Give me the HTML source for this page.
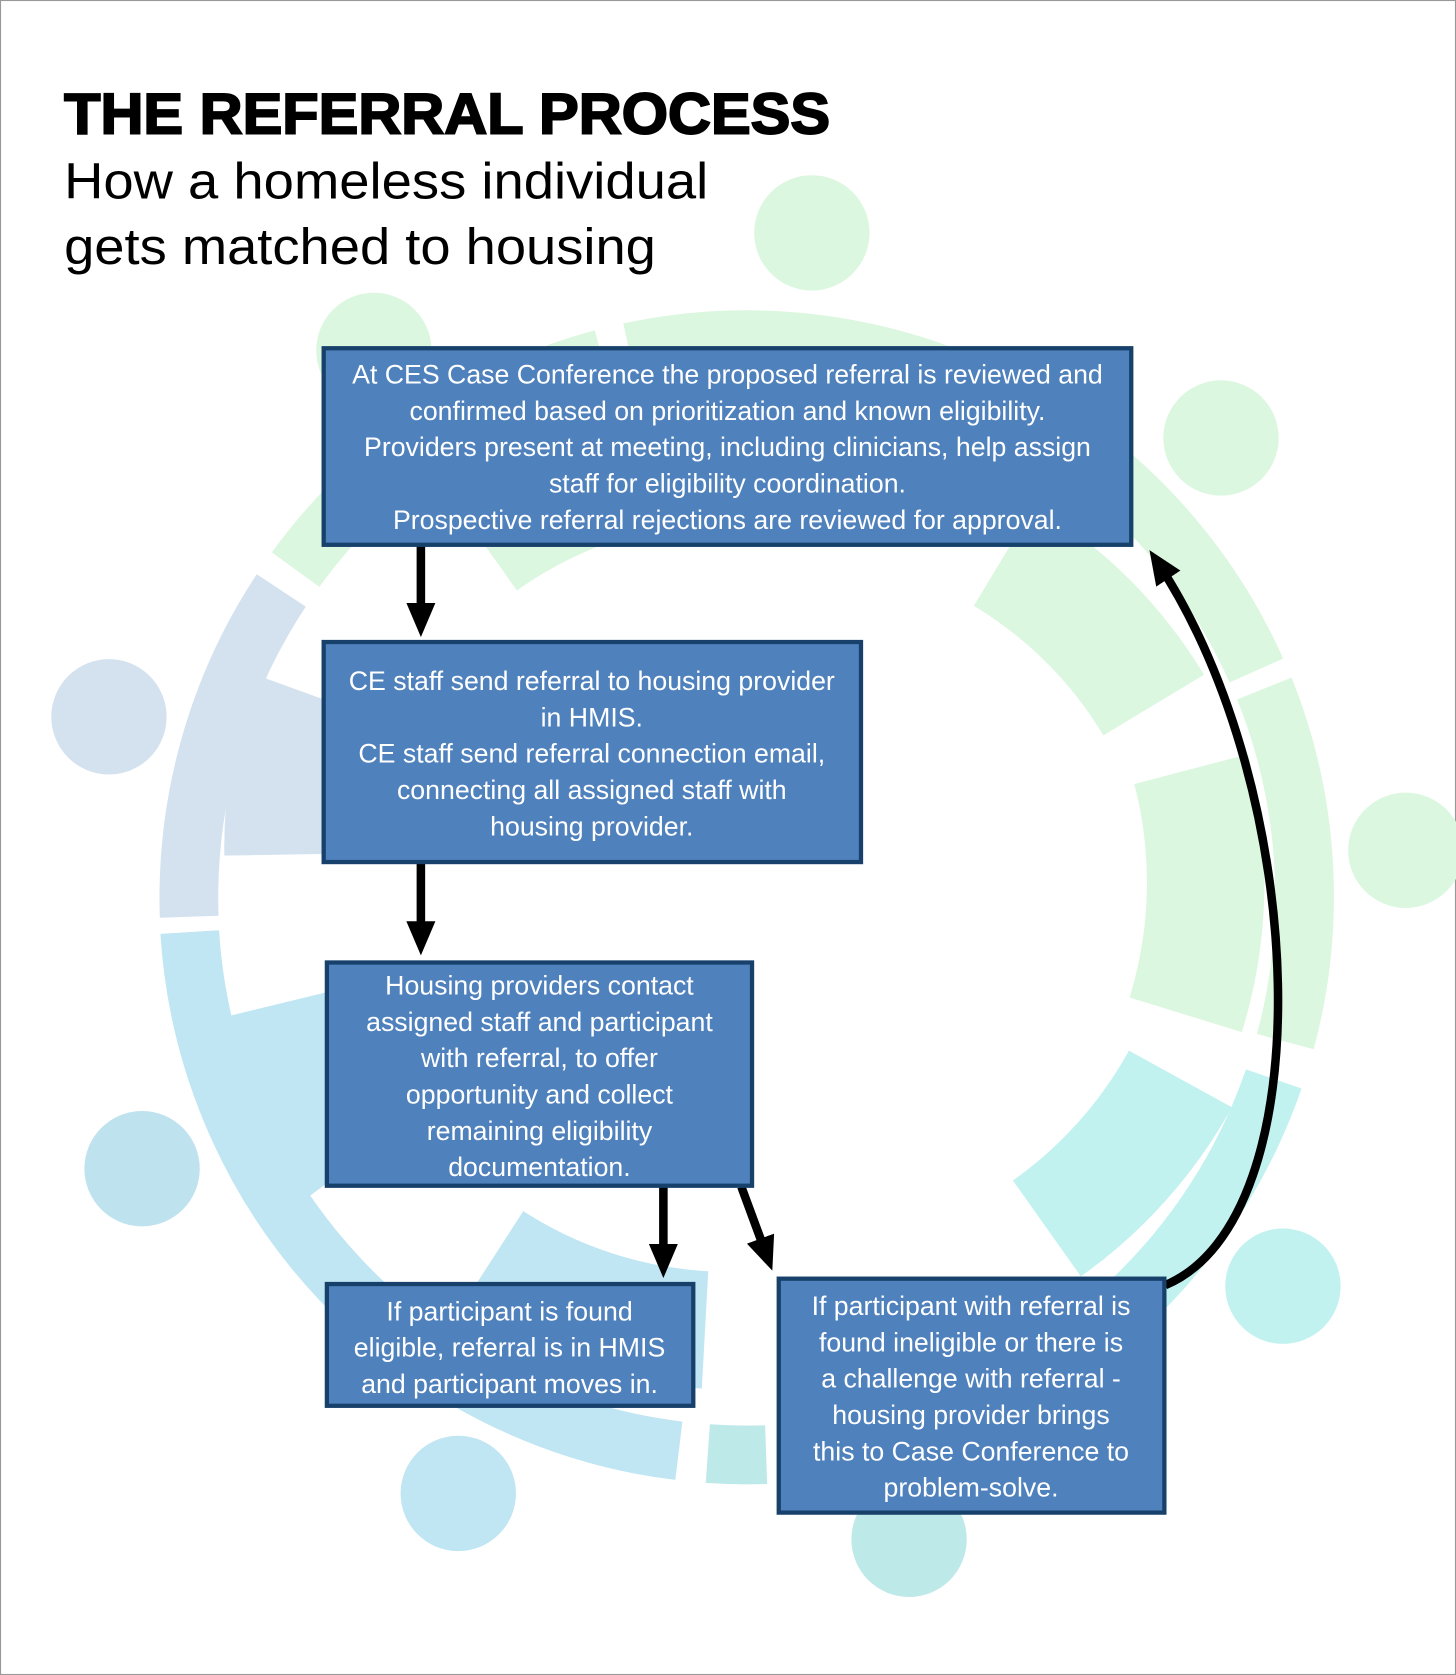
<!DOCTYPE html>
<html><head><meta charset="utf-8"><style>
html,body{margin:0;padding:0;background:#fff;}
svg{display:block;}
</style></head><body>
<svg width="1456" height="1675" viewBox="0 0 1363 1568" xmlns="http://www.w3.org/2000/svg">
<defs>
<marker id="ah" markerWidth="4" markerHeight="3.4" refX="2.2" refY="1.7" orient="auto" markerUnits="strokeWidth">
<path d="M0,0 L4,1.7 L0,3.4 Z" fill="#000"/>
</marker>
</defs>
<rect x="0.5" y="0.5" width="1362" height="1567" fill="#fff" stroke="#999" stroke-width="1"/>
<g fill="none" stroke-width="55">
<path d="M 276.7 533.2 A 522 522 0 0 1 563.9 335.8" stroke="#dcf7df"/>
<path d="M 589.3 329.7 A 522 522 0 0 1 1176.1 627.7" stroke="#dcf7df"/>
<path d="M 1183.6 644.5 A 522 522 0 0 1 1203.2 975.1" stroke="#dcf7df"/>
<path d="M 1192.4 1010.0 A 522 522 0 0 1 744.5 1360.0" stroke="#c1f2ef"/>
<path d="M 717.2 1361.7 A 522 522 0 0 1 662.6 1360.7" stroke="#bde9e8"/>
<path d="M 635.5 1358.1 A 522 522 0 0 1 177.6 872.5" stroke="#bfe6f2"/>
<path d="M 177.1 858.2 A 522 522 0 0 1 263.3 552.7" stroke="#d3e2ee"/>
</g>
<g fill="none" stroke-width="110">
<path d="M 452 508 A 410 410 0 0 1 640 435" stroke="#dcf7df"/>
<path d="M 940 520 A 410 410 0 0 1 1080 660" stroke="#dcf7df"/>
<path d="M 1115 720 A 420 420 0 0 1 1110 950" stroke="#dcf7df"/>
<path d="M 1105 1010 A 420 420 0 0 1 980 1150" stroke="#c1f2ef"/>
<path d="M 660 1245 A 410 410 0 0 1 460 1180" stroke="#bfe6f2"/>
<path d="M 330 1090 A 420 420 0 0 1 260 940" stroke="#bfe6f2"/>
<path d="M 265 800 A 420 420 0 0 1 290 650" stroke="#d3e2ee"/>
</g>
<circle cx="760" cy="218" r="54" fill="#dcf7df"/>
<circle cx="350" cy="328" r="54" fill="#dcf7df"/>
<circle cx="1143" cy="410" r="54" fill="#dcf7df"/>
<circle cx="1316" cy="796" r="54" fill="#dcf7df"/>
<circle cx="102" cy="671" r="54" fill="#d3e2ee"/>
<circle cx="133" cy="1094" r="54" fill="#bfe2ef"/>
<circle cx="429" cy="1398" r="54" fill="#bfe6f2"/>
<circle cx="851" cy="1441" r="54" fill="#bde9e8"/>
<circle cx="1201" cy="1204" r="54" fill="#c1f2ef"/>

<text x="60" y="125" font-family="Liberation Sans, Arial, sans-serif" font-weight="bold" font-size="54" textLength="717" lengthAdjust="spacingAndGlyphs" fill="#000" stroke="#000" stroke-width="1.8">THE REFERRAL PROCESS</text>
<text x="60" y="186" font-family="Liberation Sans, Arial, sans-serif" font-size="48" textLength="603" lengthAdjust="spacingAndGlyphs" fill="#000">How a homeless individual</text>
<text x="60" y="247" font-family="Liberation Sans, Arial, sans-serif" font-size="48" textLength="554" lengthAdjust="spacingAndGlyphs" fill="#000">gets matched to housing</text>

<g stroke="#000" stroke-width="8" fill="none">
<line x1="394" y1="511" x2="394" y2="582" marker-end="url(#ah)"/>
<line x1="394" y1="808" x2="394" y2="880" marker-end="url(#ah)"/>
<line x1="621" y1="1111" x2="621" y2="1182" marker-end="url(#ah)"/>
<line x1="694" y1="1111" x2="718" y2="1176" marker-end="url(#ah)"/>
<path d="M1091,1203 C1240,1140 1225,740 1084,527" marker-end="url(#ah)"/>
</g>

<g fill="#4f81bd" stroke="#17406a" stroke-width="4">
<rect x="303" y="326" width="756" height="184"/>
<rect x="303" y="601" width="503" height="206"/>
<rect x="306" y="901" width="398" height="209"/>
<rect x="306" y="1202" width="343" height="114"/>
<rect x="729" y="1197" width="361" height="219"/>
</g>
<g font-family="Liberation Sans, Arial, sans-serif" font-size="25" fill="#fff" text-anchor="middle">
<text x="681" y="359">At CES Case Conference the proposed referral is reviewed and</text>
<text x="681" y="393">confirmed based on prioritization and known eligibility.</text>
<text x="681" y="427">Providers present at meeting, including clinicians, help assign</text>
<text x="681" y="461">staff for eligibility coordination.</text>
<text x="681" y="495">Prospective referral rejections are reviewed for approval.</text>

<text x="554" y="646">CE staff send referral to housing provider</text>
<text x="554" y="680">in HMIS.</text>
<text x="554" y="714">CE staff send referral connection email,</text>
<text x="554" y="748">connecting all assigned staff with</text>
<text x="554" y="782">housing provider.</text>

<text x="505" y="931">Housing providers contact</text>
<text x="505" y="965">assigned staff and participant</text>
<text x="505" y="999">with referral, to offer</text>
<text x="505" y="1033">opportunity and collect</text>
<text x="505" y="1067">remaining eligibility</text>
<text x="505" y="1101">documentation.</text>

<text x="477" y="1236">If participant is found</text>
<text x="477" y="1270">eligible, referral is in HMIS</text>
<text x="477" y="1304">and participant moves in.</text>

<text x="909" y="1231">If participant with referral is</text>
<text x="909" y="1265">found ineligible or there is</text>
<text x="909" y="1299">a challenge with referral -</text>
<text x="909" y="1333">housing provider brings</text>
<text x="909" y="1367">this to Case Conference to</text>
<text x="909" y="1401">problem-solve.</text>
</g>
</svg>
</body></html>
